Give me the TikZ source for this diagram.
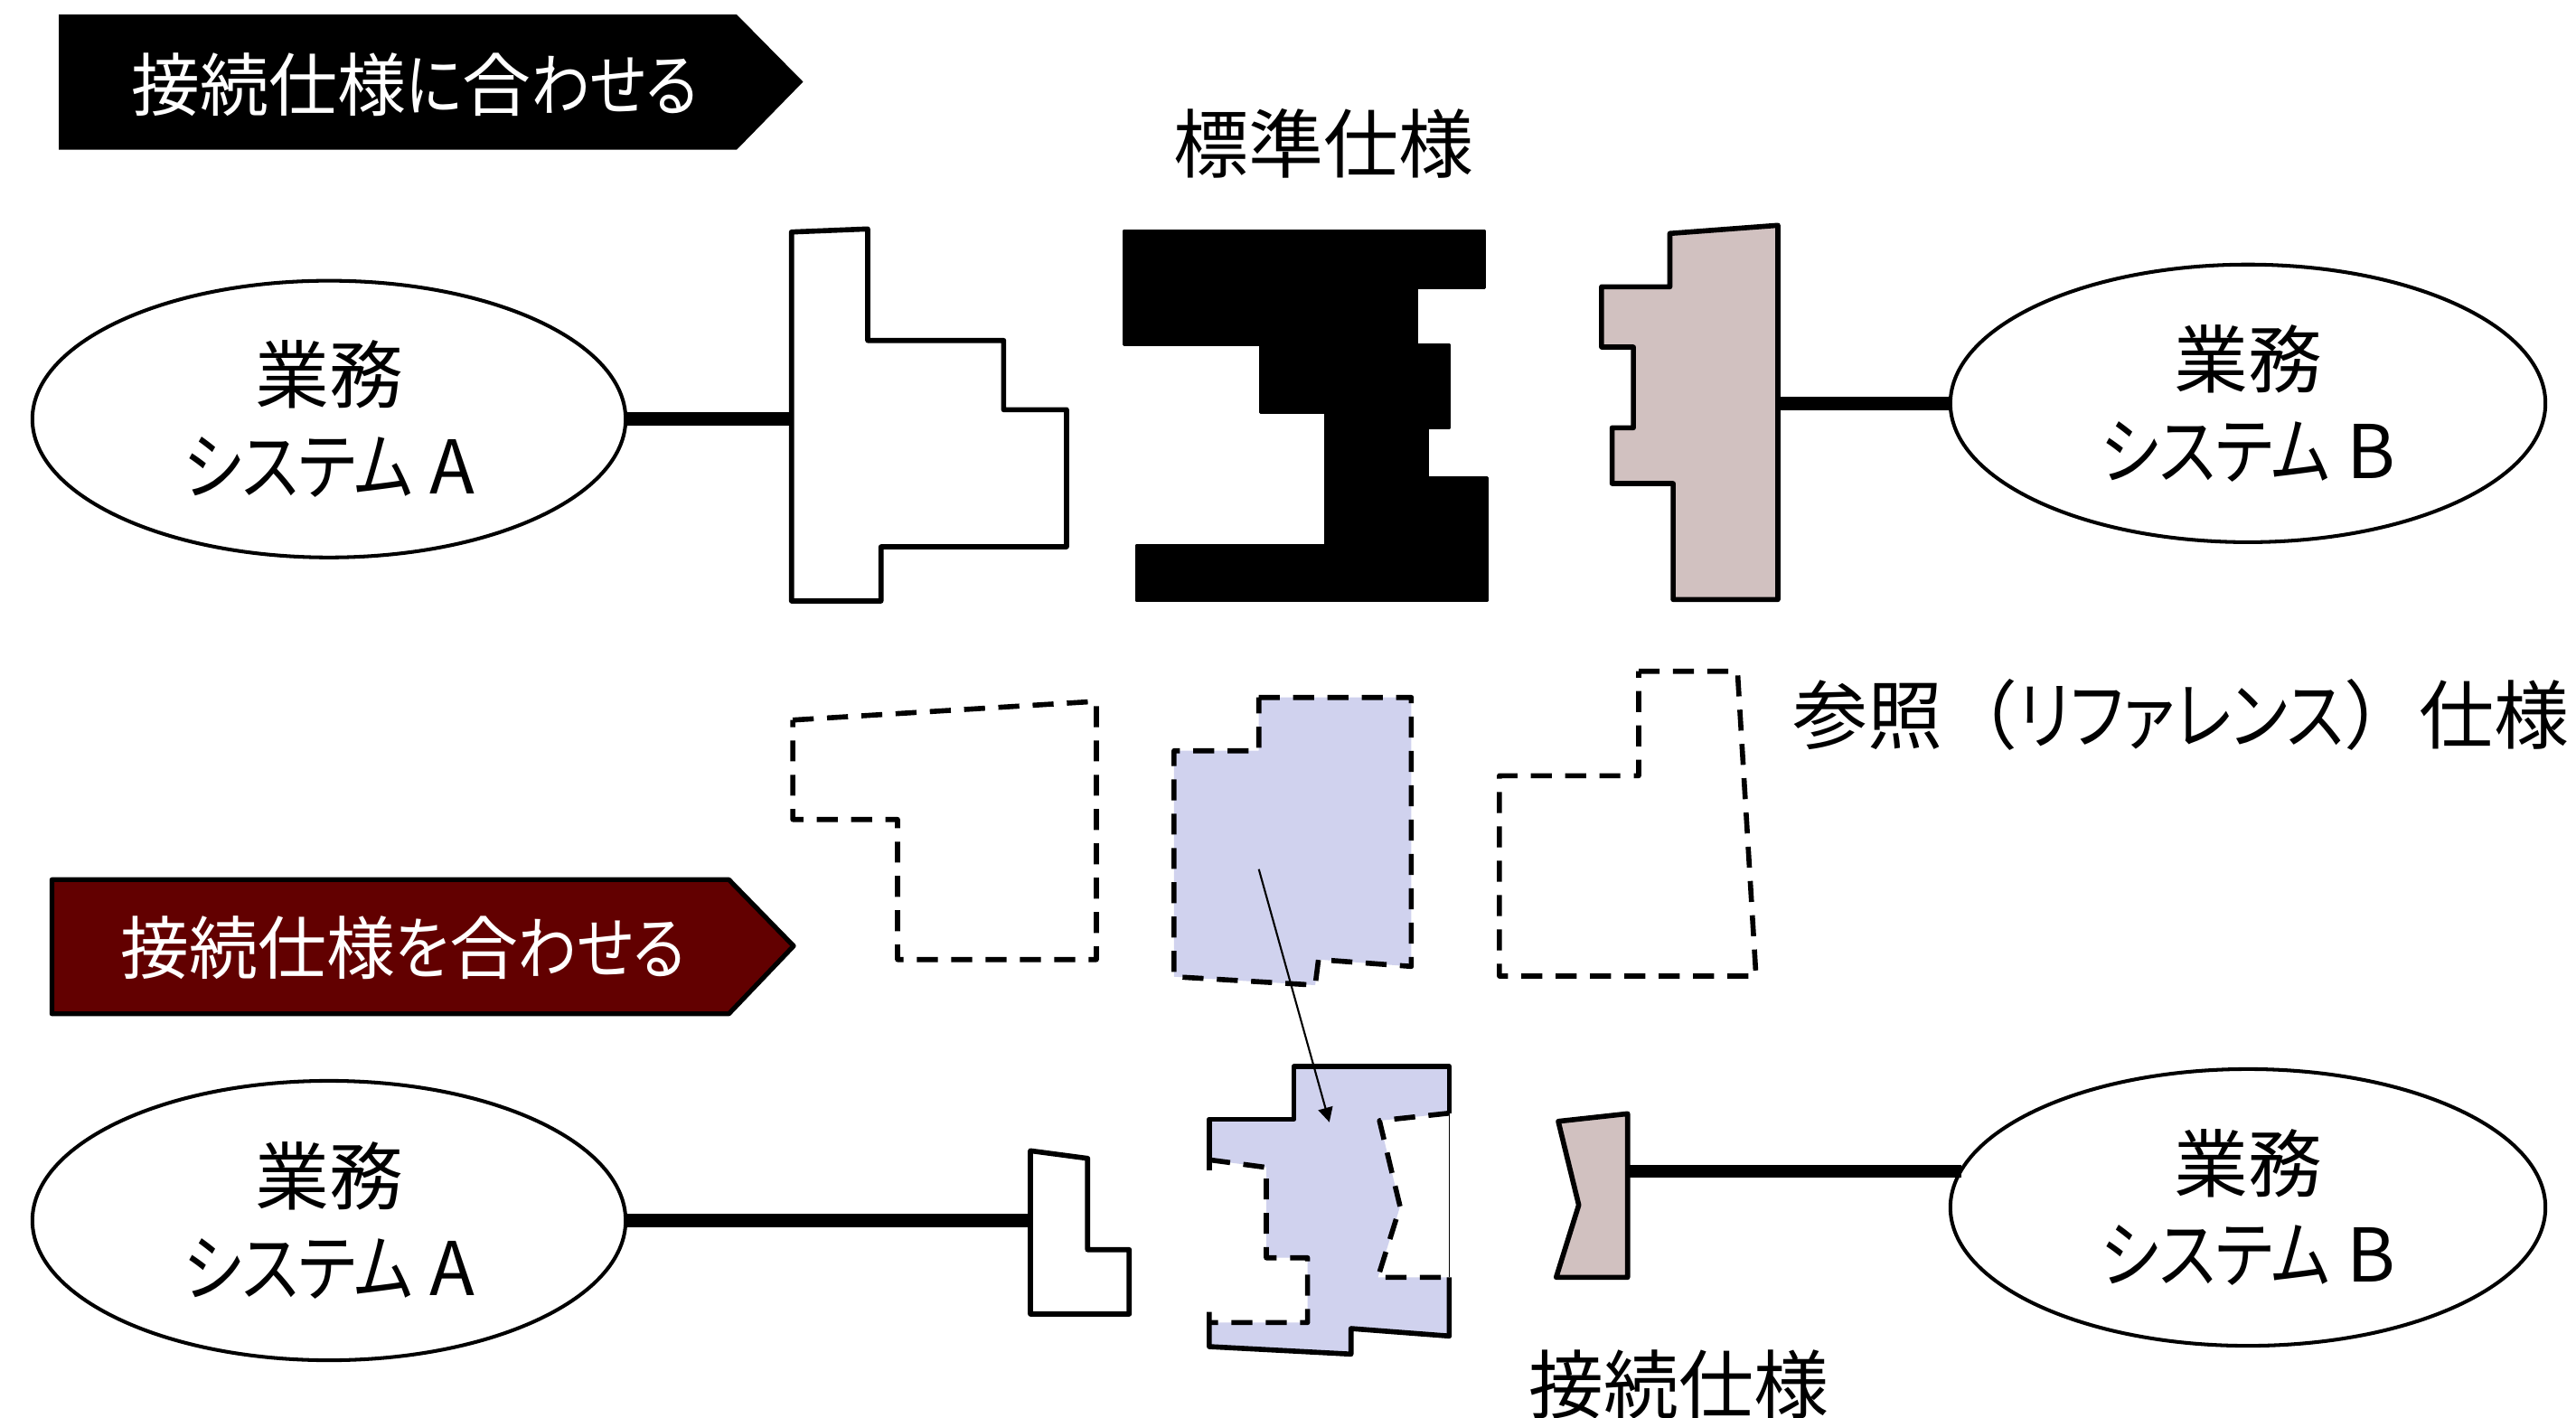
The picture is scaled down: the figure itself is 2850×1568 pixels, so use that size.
\documentclass[tikz,border=0pt]{standalone}
\usepackage{fontspec}
\newfontfamily\jp{Noto Sans CJK JP}
\newfontfamily\jpp[RawFeature=+palt]{Noto Sans CJK JP}
\newfontfamily\jpk[RawFeature=+palt,FakeStretch=0.85]{Noto Sans CJK JP}
\usetikzlibrary{arrows.meta,shapes.geometric}
\definecolor{brownf}{RGB}{209,193,192}
\definecolor{lav}{RGB}{208,210,238}
\definecolor{dred}{RGB}{98,0,0}
\tikzset{
  outl/.style={line width=1.6pt, line join=round},
  dsh/.style={line width=1.6pt, dash pattern=on 6.6pt off 4.2pt, line join=round},
  conn/.style={line width=4.2pt},
  sysell/.style={ellipse, draw, line width=1.15pt, inner sep=0pt, align=center,
    font=\jpp\fontsize{23.3}{28.7}\selectfont},
  bantext/.style={text=white, inner sep=0pt, font=\jpp\fontsize{21.6}{26}\selectfont},
  lbl/.style={inner sep=0pt, font=\jpp\fontsize{23.6}{28}\selectfont},
}
\begin{document}
\begin{tikzpicture}[x=0.01cm,y=-0.01cm]
\useasboundingbox[fill=white] (0,0) rectangle (2850,1568);

% banners
\fill[black] (65,16) -- (815,16) -- (888.5,90.5) -- (815,165.7) -- (65,165.7) -- cycle;
\node[bantext] (t1) at (459,93.5) {接続仕様{\jpk に}合{\jpk わせる}};
\draw[fill=dred, line width=1.5pt, line join=round] (57.4,973.3) -- (806.4,973.3) -- (878,1046.7) -- (806.4,1121.7) -- (57.4,1121.7) -- cycle;
\node[bantext] (t2) at (446,1049) {接続仕様{\jpk を}合{\jpk わせる}};

% labels
\node[lbl] (std) at (1464,159) {標準仕様};
\node[lbl, anchor=east] (ref) at (2843,791) {参照{\jp （}{\jpk リファレンス}{\jp ）}仕様};
\node[lbl] (conspec) at (1857,1532) {接続仕様};

% system ellipses
\node[sysell, minimum width=6.56cm, minimum height=3.06cm] (eA1) at (364,463.7) {業務\\{\jpk システム} A};
\node[sysell, minimum width=6.58cm, minimum height=3.07cm] (eB1) at (2487,446.3) {業務\\{\jpk システム} B};
\node[sysell, minimum width=6.56cm, minimum height=3.09cm] (eA2) at (364,1350.5) {業務\\{\jpk システム} A};
\node[sysell, minimum width=6.58cm, minimum height=3.06cm] (eB2) at (2487,1336) {業務\\{\jpk システム} B};

% connection points
\coordinate (pA1) at (875.7,463.7);
\coordinate (pB1) at (1967,446.3);
\coordinate (pA2) at (1140,1350.5);
\coordinate (pB2) at (1800.7,1296);

% connectors
\draw[conn] (eA1.east) -- (pA1);
\draw[conn] (pB1) -- (eB1.west);
\draw[conn] (eA2.east) -- (pA2);
\draw[conn] (pB2) -- (pB2 -| eB2.172.8);

% top row shapes
\draw[outl, fill=white] (875.7,256.7) -- (960,253.3) -- (960,376.7) -- (1110.4,376.7) -- (1110.4,453.3) -- (1180,453.3) -- (1180,605) -- (974.7,605) -- (974.7,665) -- (875.7,665) -- cycle;
\draw[line width=0.8pt, line join=round, fill=black] (1243.8,255) -- (1642.1,255) -- (1642.1,318.3) -- (1567.3,318.3) -- (1567.3,381.7) -- (1604,381.7) -- (1604,473.3) -- (1579.7,473.3) -- (1579.7,528.3) -- (1645.8,528.3) -- (1645.8,665) -- (1257,665) -- (1257,603.3) -- (1466.1,603.3) -- (1466.1,456.7) -- (1394.2,456.7) -- (1394.2,381.7) -- (1243.8,381.7) -- cycle;
\draw[outl, fill=brownf] (1847.5,258.3) -- (1967,249.3) -- (1967,663.3) -- (1851.1,663.3) -- (1851.1,535) -- (1783.6,535) -- (1783.6,473.3) -- (1807.1,473.3) -- (1807.1,384) -- (1771.9,384) -- (1771.9,317.3) -- (1847.5,317.3) -- cycle;

% reference (dashed) shapes
\draw[dsh] (877.1,796.7) -- (1213,776) -- (1213,1061.7) -- (993,1061.7) -- (993,906.7) -- (877.1,906.7) -- cycle;
\draw[dsh, fill=lav] (1392.7,771.7) -- (1561.4,771.7) -- (1561.4,1069.3) -- (1458.7,1061.7) -- (1455.1,1090) -- (1298.9,1080.7) -- (1298.9,830.7) -- (1392.7,830.7) -- cycle;
\draw[dsh] (1813,742.7) -- (1922.3,742.7) -- (1942.8,1080) -- (1658.9,1080) -- (1658.9,858.3) -- (1813,858.3) -- cycle;

% bottom row shapes
\draw[outl, fill=white] (1140,1273.3) -- (1203.3,1281.7) -- (1203.3,1382.7) -- (1249.3,1382.7) -- (1249.3,1454) -- (1140,1454) -- cycle;
\fill[lav] (1337.9,1283.3) -- (1337.9,1238.3) -- (1431.5,1238.3) -- (1431.5,1180) -- (1603.4,1180) -- (1603.4,1231.7) -- (1526.2,1240) -- (1549,1335) -- (1524.5,1413.3) -- (1603.4,1413.3) -- (1603.4,1478.3) -- (1494.7,1470) -- (1494.7,1498.3) -- (1337.9,1490) -- (1337.9,1463.3) -- (1446.6,1463.3) -- (1446.6,1391.7) -- (1401,1391.7) -- (1401,1291.7) -- cycle;
\draw[line width=0.5pt] (1603.4,1231.7) -- (1603.4,1413.3);
\draw[outl] (1337.9,1295) -- (1337.9,1238.3) -- (1431.5,1238.3) -- (1431.5,1180) -- (1603.4,1180) -- (1603.4,1231.7);
\draw[outl] (1603.4,1413.3) -- (1603.4,1478.3) -- (1494.7,1470) -- (1494.7,1498.3) -- (1337.9,1490) -- (1337.9,1451.7);
\draw[dsh] (1337.9,1283.3) -- (1401,1291.7) -- (1401,1391.7) -- (1446.6,1391.7) -- (1446.6,1463.3) -- (1337.9,1463.3);
\draw[dsh] (1603.4,1231.7) -- (1526.2,1240) -- (1549,1335) -- (1524.5,1413.3) -- (1603.4,1413.3);
\draw[outl, fill=brownf] (1724,1240.7) -- (1800.7,1232.3) -- (1800.7,1413.3) -- (1721.7,1413.3) -- (1746.7,1333.3) -- cycle;

% arrow from reference spec to connection spec
\coordinate (arrS) at (1392.7,961.7);
\coordinate (arrE) at (1470.8,1241.7);
\draw[line width=0.6pt, -{Triangle[length=4.6pt,width=4.6pt]}] (arrS) -- (arrE);
\end{tikzpicture}
\end{document}
